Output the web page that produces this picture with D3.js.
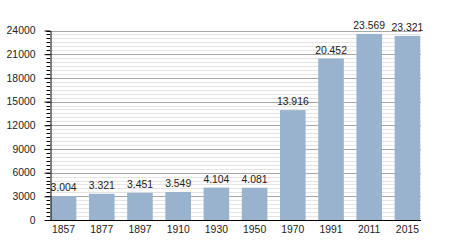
<!DOCTYPE html>
<html><head><meta charset="utf-8">
<script src="https://cdn.jsdelivr.net/npm/d3@7"></script>
<style>body{margin:0;background:#fff}svg{display:block}</style>
</head><body><svg width="450" height="250"></svg>
<script>
const years = ["1857","1877","1897","1910","1930","1950","1970","1991","2011","2015"];
const population = [3004,3321,3451,3549,4104,4081,13916,20452,23569,23321];
const yTicks = [0,3000,6000,9000,12000,15000,18000,21000,24000];

(function () {
const svg = d3.select("svg");
const mLeft = 50, mRight = 421, mTop = 30.5, mBottom = 220;
const font = "Liberation Sans, Arial, sans-serif";
const x = d3.scaleBand().domain(years).range([mLeft, mRight]).paddingInner(0.33).paddingOuter(0.02);
const y = d3.scaleLinear().domain([0, 24000]).range([mBottom, mTop]);
const minor = d3.range(0, 24001, 500);
const fmt = v => d3.format(",")(v).replace(/,/g, ".");
const py = d => Math.round(y(d)) + 0.5;

svg.append("g").selectAll("line").data(minor.filter(v => v % 3000 !== 0)).join("line")
  .attr("x1", mLeft).attr("x2", mRight).attr("y1", py).attr("y2", py)
  .attr("stroke", "#e4e4e4").attr("stroke-width", 1);
svg.append("g").selectAll("line").data(yTicks.filter(v => v > 0)).join("line")
  .attr("x1", mLeft).attr("x2", mRight).attr("y1", py).attr("y2", py)
  .attr("stroke", "#a8a8a8").attr("stroke-width", 1);

svg.append("g").selectAll("rect").data(population).join("rect")
  .attr("x", (d, i) => x(years[i])).attr("width", x.bandwidth())
  .attr("y", d => y(d)).attr("height", d => mBottom - y(d))
  .attr("fill", "#99b3cf");

svg.append("g").selectAll("text").data(population).join("text")
  .attr("x", (d, i) => x(years[i]) + x.bandwidth() / 2).attr("y", d => y(d) - 5)
  .attr("text-anchor", "middle").attr("font-family", font)
  .attr("font-size", 10.4).attr("fill", "#222").text(fmt);

svg.append("g").selectAll("line").data(minor).join("line")
  .attr("x1", 46.5).attr("x2", mLeft).attr("y1", py).attr("y2", py)
  .attr("stroke", "#000");

const yAxis = d3.axisLeft(y).tickValues(yTicks).tickSize(6).tickSizeOuter(0).tickPadding(9).tickFormat(d3.format("d"));
const ga = svg.append("g").attr("transform", `translate(${mLeft + 0.5},0)`).call(yAxis);
ga.selectAll("text").attr("font-family", font).attr("font-size", 10.4).attr("fill", "#222");
ga.select(".domain").attr("stroke", "#000");

const xAxis = d3.axisBottom(x).tickSize(0).tickSizeOuter(0).tickPadding(5);
const gx = svg.append("g").attr("transform", `translate(0,${mBottom + 0.5})`).call(xAxis);
gx.select(".domain").attr("stroke", "#000").attr("d", `M${mLeft},0H${mRight}`);
gx.selectAll("text").attr("font-family", font).attr("font-size", 10.4).attr("fill", "#222");
})();
</script></body></html>
